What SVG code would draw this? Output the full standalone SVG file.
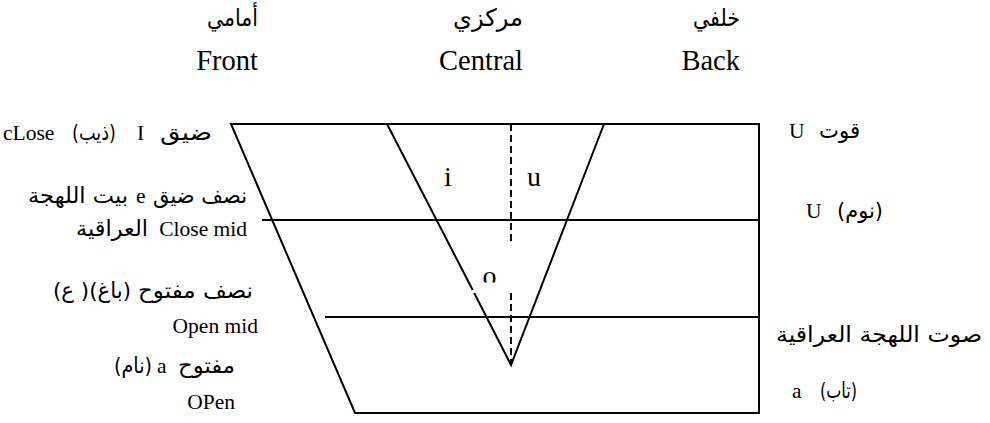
<svg xmlns="http://www.w3.org/2000/svg" width="990" height="423" viewBox="0 0 990 423">
<style>
.en{font-family:"Liberation Serif","Times New Roman",serif;font-size:21.5px;fill:#000}
.vw{font-family:"Liberation Serif","Times New Roman",serif;font-size:28px;fill:#000}
.hd{font-family:"Liberation Serif","Times New Roman",serif;font-size:28.5px;fill:#000}
.ar{font-family:"DejaVu Sans","Noto Sans",sans-serif;font-size:22px;fill:#000}
.arh{font-family:"DejaVu Sans","Noto Sans",sans-serif;font-size:24px;fill:#000}
.ln{stroke:#000;stroke-width:2;fill:none}
.ds{stroke:#000;stroke-width:2;fill:none;stroke-dasharray:7,4}
</style>
<defs>
<clipPath id="oclip"><rect x="470" y="260" width="40" height="22.5"/></clipPath>
</defs>
<g id="headers">
<text class="arh" x="207" y="26" textLength="51" lengthAdjust="spacingAndGlyphs">أمامي</text>
<text class="arh" x="453" y="26" textLength="70" lengthAdjust="spacingAndGlyphs">مركزي</text>
<text class="arh" x="693" y="26" textLength="47" lengthAdjust="spacingAndGlyphs">خلفي</text>
<text class="hd" x="258" y="70" text-anchor="end">Front</text>
<text class="hd" x="523" y="70" text-anchor="end">Central</text>
<text class="hd" x="740" y="70" text-anchor="end">Back</text>
</g>
<g id="connectors">
<path class="ln" d="M231,124 L759,124 L759,413 L355,413 Z"/>
<path class="ln" d="M262,220 L759,220"/>
<path class="ln" d="M325,317 L759,317"/>
<path class="ln" d="M387,124 L472.7,290"/>
<path class="ln" d="M474.2,293 L511,365 L604,124"/>
<path class="ds" d="M511,124 V242"/>
<path class="ds" d="M511,293 V365"/>
</g>
<g id="vowels">
<text class="vw" x="448" y="186" text-anchor="middle">i</text>
<text class="vw" x="534" y="186" text-anchor="middle">u</text>
<text class="vw" x="489.5" y="285" text-anchor="middle" clip-path="url(#oclip)">o</text>
</g>
<g id="label-close">
<text class="en" x="3" y="140">cLose</text>
<text class="ar" x="72" y="140" textLength="44" lengthAdjust="spacingAndGlyphs">(ذيب)</text>
<text class="en" x="137" y="140">I</text>
<text class="ar" x="160" y="140" textLength="52" lengthAdjust="spacingAndGlyphs">ضيق</text>
</g>
<g id="label-close-mid">
<text class="ar" x="28" y="203" textLength="100" lengthAdjust="spacingAndGlyphs">بيت اللهجة</text>
<text class="en" x="136" y="203">e</text>
<text class="ar" x="153" y="203" textLength="94" lengthAdjust="spacingAndGlyphs">نصف ضيق</text>
<text class="ar" x="76" y="236" textLength="72" lengthAdjust="spacingAndGlyphs">العراقية</text>
<text class="en" x="247" y="236" text-anchor="end">Close mid</text>
</g>
<g id="label-open-mid">
<text class="ar" x="53" y="298" textLength="78" lengthAdjust="spacingAndGlyphs">(ع )(باغ)</text>
<text class="ar" x="138" y="298" textLength="115" lengthAdjust="spacingAndGlyphs">نصف مفتوح</text>
<text class="en" x="258" y="333" text-anchor="end">Open mid</text>
</g>
<g id="label-open">
<text class="ar" x="114" y="373" textLength="38" lengthAdjust="spacingAndGlyphs">(نام)</text>
<text class="en" x="157" y="373">a</text>
<text class="ar" x="178" y="373" textLength="57" lengthAdjust="spacingAndGlyphs">مفتوح</text>
<text class="en" x="235" y="409" text-anchor="end">OPen</text>
</g>
<g id="label-right">
<text class="en" x="789" y="138">U</text>
<text class="ar" x="819" y="138" textLength="41" lengthAdjust="spacingAndGlyphs">قوت</text>
<text class="en" x="806" y="218">U</text>
<text class="ar" x="837" y="218" textLength="46" lengthAdjust="spacingAndGlyphs">(نوم)</text>
<text class="ar" x="776" y="342" textLength="206" lengthAdjust="spacingAndGlyphs">صوت اللهجة العراقية</text>
<text class="en" x="792" y="398">a</text>
<text class="ar" x="820" y="398" textLength="37" lengthAdjust="spacingAndGlyphs">(تاب)</text>
</g>
</svg>
